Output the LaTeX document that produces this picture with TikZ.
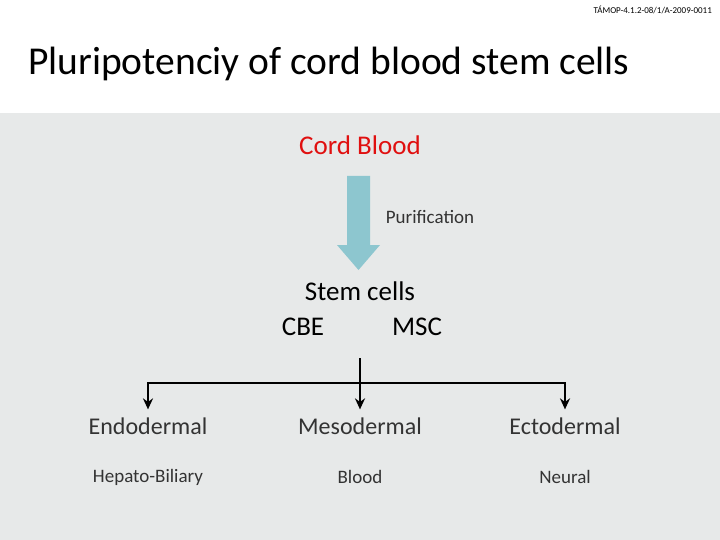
\documentclass[tikz,border=0pt]{standalone}
\usepackage{fontspec}
\setmainfont{Carlito}
\usetikzlibrary{arrows.meta}
\definecolor{bg}{HTML}{E7E9E9}
\definecolor{arr}{HTML}{8DC6CF}
\definecolor{txt}{HTML}{333333}
\definecolor{cred}{HTML}{E01010}
\tikzset{lbl/.style={inner sep=0pt,anchor=center,text=txt},
 conn/.style={line width=2.5pt,-{Stealth[length=11pt,width=10pt]}}}
\begin{document}
\begin{tikzpicture}[x=1pt,y=-1pt]
\useasboundingbox (0,0) rectangle (720,540);
\fill[white] (0,0) rectangle (720,113);
\fill[bg] (0,113) rectangle (720,540);
\node[lbl,anchor=east,font=\fontsize{9}{10}\selectfont,text=black] (hdr) at (712,10) {TÁMOP-4.1.2-08/1/A-2009-0011};
\node[lbl,anchor=west,font=\fontsize{39.5}{46}\selectfont,text=black] (title) at (28,64) {Pluripotenciy of cord blood stem cells};
\node[lbl,font=\fontsize{27}{32}\selectfont,text=cred] (cb) at (360,145) {Cord Blood};
\fill[arr] (347,176) -- (370,176) -- (370,245) -- (380,245) -- (358.5,270) -- (337,245) -- (347,245) -- cycle;
\node[lbl,font=\fontsize{19}{22}\selectfont] (pur) at (430,217) {Purification};
\node[lbl,font=\fontsize{27}{32}\selectfont,text=black] (sc) at (360,291) {Stem cells};
\node[lbl,font=\fontsize{27}{32}\selectfont,text=black] (cbe) at (303,327) {CBE};
\node[lbl,font=\fontsize{27}{32}\selectfont,text=black] (msc) at (417,327) {MSC};
\coordinate (top) at (360,358);
\coordinate (mid) at (360,383);
\node[lbl,font=\fontsize{24}{28}\selectfont] (endo) at (148,426) {Endodermal};
\node[lbl,font=\fontsize{24}{28}\selectfont] (meso) at (360,426) {Mesodermal};
\node[lbl,font=\fontsize{24}{28}\selectfont] (ecto) at (565,426) {Ectodermal};
\node[lbl,font=\fontsize{19}{22}\selectfont] (hep) at (148,477) {Hepato-Biliary};
\node[lbl,font=\fontsize{19}{22}\selectfont] (blood) at (360,477) {Blood};
\node[lbl,font=\fontsize{19}{22}\selectfont] (neur) at (565,477) {Neural};
\draw[line width=2.5pt] (top) -- (mid);
\draw[conn] (mid) -| ([yshift=8pt]endo.north);
\draw[conn] (mid) -- ([yshift=8pt]meso.north);
\draw[conn] (mid) -| ([yshift=8pt]ecto.north);
\end{tikzpicture}
\end{document}
